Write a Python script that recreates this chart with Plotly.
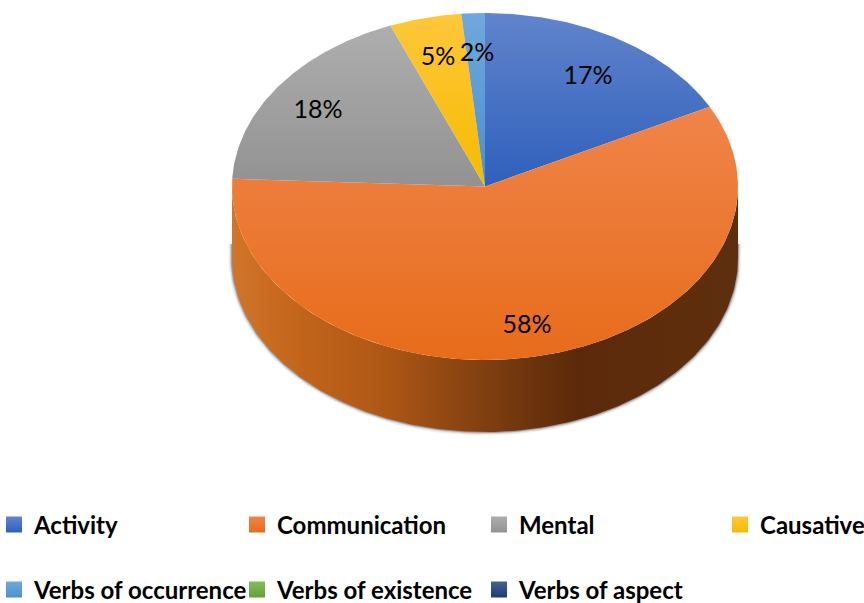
import numpy as np
import plotly.graph_objects as go

# Category order and printed labels
categories = ["Activity", "Communication", "Mental", "Causative",
              "Verbs of occurrence", "Verbs of existence", "Verbs of aspect"]
printed_labels = ["17%", "58%", "18%", "5%", "2%", "", ""]
# Slice sizes
slice_sizes = [17.4, 58.3, 18.2, 4.6, 1.5, 0, 0]
top_colors = ["#6184CC", "#F0844A", "#AEAEAE", "#FFC73A", "#6FA8DC", "#84BC5C", "#47608F"]
bottom_colors = ["#2F60BC", "#E76C1A", "#929292", "#F5BB00", "#4A90CE", "#62A334", "#1B3A78"]
# Where each label sits, in picture pixels
label_x = [588, 527, 318, 438, 477]
label_y = [78, 327, 112, 59, 55]
# Legend item positions
legend_x = [-6, 237, 479, 720, -6, 237, 479]
legend_y = [525, 525, 525, 525, 590, 590, 590]

W, H = 864, 603
CX, CY, RX, RY, DEPTH = 485, 186.5, 253, 173.5, 72
FONT = "Lato, Liberation Sans, sans-serif"

def ell(deg):
    a = np.radians(deg)
    return CX + RX * np.sin(a), CY - RY * np.cos(a)

fig = go.Figure()

# soft shadow rim, running up the two ends of the wall as well
t = np.linspace(90, 270, 181)
ex, ey = ell(t)
rim_x = np.r_[ex[0], ex, ex[-1]]
rim_y = np.r_[CY + DEPTH * 0.8, ey + DEPTH, CY + DEPTH * 0.8]
for wid, op in [(7, 0.10), (4, 0.20), (2, 0.4)]:
    fig.add_trace(go.Scatter(x=rim_x, y=rim_y, mode="lines", hoverinfo="skip", showlegend=False,
                             line=dict(color="#555555", width=wid), opacity=op))
# side wall
wx, wy = ell(t)
fig.add_trace(go.Scatter(
    x=np.r_[wx, wx[::-1]], y=np.r_[wy + DEPTH, wy[::-1]], mode="lines", line=dict(width=0),
    fill="toself", hoverinfo="skip", showlegend=False,
    fillgradient=dict(type="horizontal", colorscale=[
        [0, "#D0752A"], [0.12, "#C4661C"], [0.3, "#AE5715"], [0.45, "#8C4511"],
        [0.58, "#6E350D"], [0.68, "#5C2A0A"], [1, "#5E2F0E"]])))

# top face slices
start = 0.0
for i, v in enumerate(slice_sizes):
    if v == 0:
        continue
    a0, a1 = start, start + v * 3.6
    start = a1
    tt = np.linspace(a0, a1, max(int(v * 6), 6))
    px, py = ell(tt)
    xs = np.r_[CX, px, CX]
    ys = np.r_[CY, py, CY]
    fig.add_trace(go.Scatter(
        x=xs, y=ys, mode="lines", line=dict(width=0), fill="toself", showlegend=False,
        name=categories[i], hoverinfo="name",
        fillgradient=dict(type="vertical", colorscale=[[0, bottom_colors[i]], [1, top_colors[i]]])))

# labels
fig.add_trace(go.Scatter(
    x=label_x, y=label_y, mode="text", text=printed_labels[:5], showlegend=False, hoverinfo="skip",
    textfont=dict(family=FONT, size=25, color="#000000"),
    textposition="middle center"))

# one legend per entry so the grid matches
layout_legends = {}
for i, c in enumerate(categories):
    key = "legend" if i == 0 else f"legend{i+1}"
    fig.add_trace(go.Scatter(
        x=[None], y=[None], mode="markers", name=c, legend=key, showlegend=True,
        marker=dict(symbol="square", size=19, color=top_colors[i],
                    gradient=dict(type="vertical", color=bottom_colors[i]))))
    layout_legends[key] = dict(
        x=legend_x[i] / W, y=1 - legend_y[i] / H, xanchor="left", yanchor="middle",
        bgcolor="rgba(0,0,0,0)", borderwidth=0,
        font=dict(family=FONT, size=24, color="#000000", weight="bold"))

fig.update_layout(
    width=W, height=H, margin=dict(l=0, r=0, t=0, b=0, autoexpand=False),
    paper_bgcolor="#FFFFFF", plot_bgcolor="#FFFFFF",
    xaxis=dict(range=[0, W], visible=False, fixedrange=True),
    yaxis=dict(range=[H, 0], visible=False, fixedrange=True),
    **layout_legends)
fig.write_html("out.html", config=dict(displayModeBar=False),
               post_script="document.body.style.margin='0';document.documentElement.style.overflow='hidden';")
